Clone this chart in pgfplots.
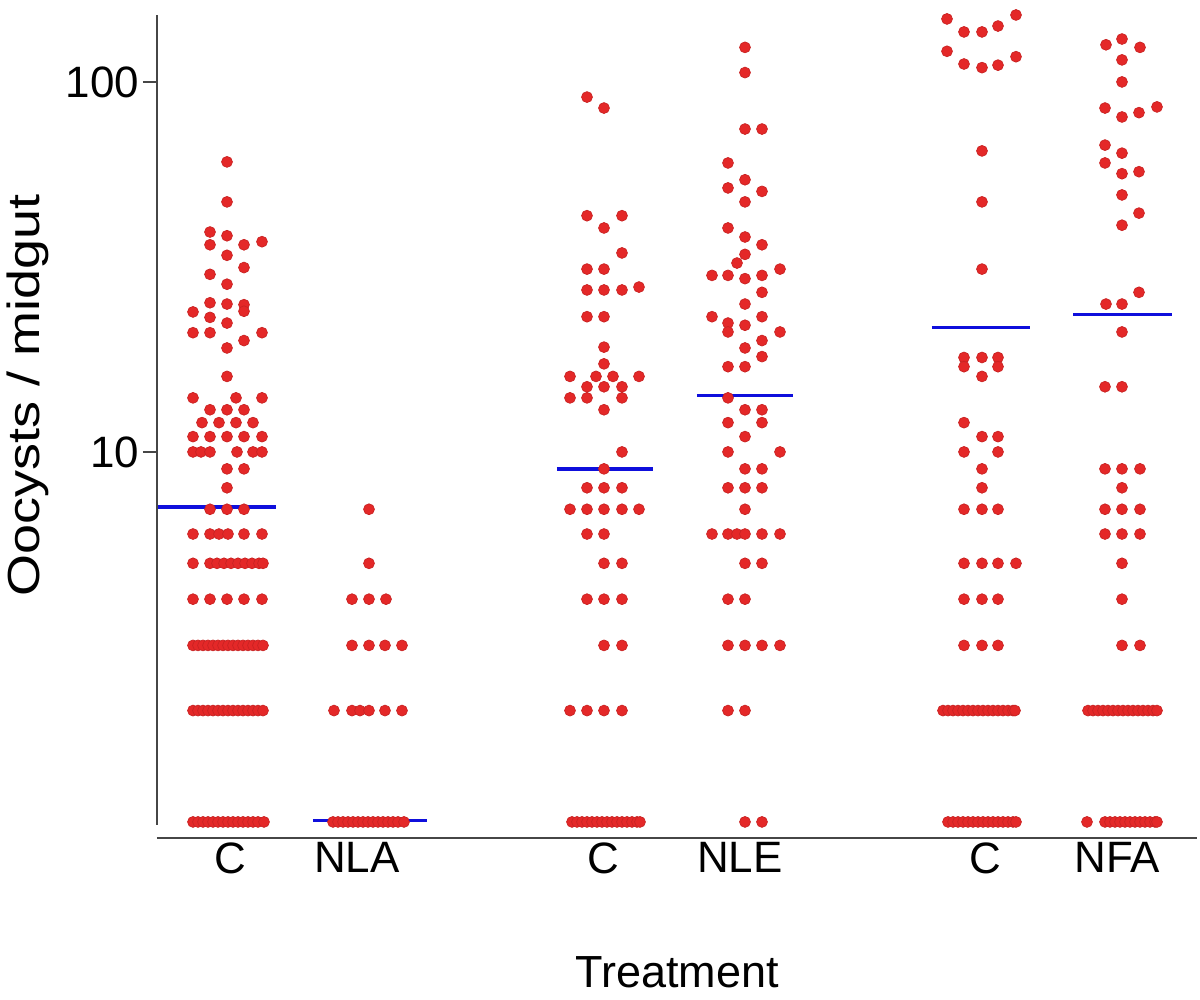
\documentclass[border=0pt]{standalone}
\usepackage{pgfplots}
\pgfplotsset{compat=1.18}
\usepackage{fontspec}
\setmainfont{Liberation Sans}
\definecolor{dotred}{RGB}{228,40,40}
\definecolor{medblue}{RGB}{15,15,220}
\definecolor{axgray}{RGB}{70,70,70}

\pgfplotstableread{
x y
227 60.8
227 47.4
210 39.3
227 38.4
210 36.3
244 36.3
262 37
227 34
210 30.2
244 31.5
227 28.4
210 25.3
227 25.1
244 25
244 24
193 23.9
210 23.1
227 22.3
193 21
210 21
262 21
244 20
227 19.1
227 16
193 14
236 14
262 14
210 13
227 13
244 13
202 12
219 12
236 12
253 12
193 11
210 11
227 11
244 11
262 11
193 10
201 10
210 10
237 10
253 10
262 10
227 9
244 9
227 8
210 7
227 7
244 7
193 6
210 6
219 6
228 6
244 6
262 6
193 5
210 5
217 5
224 5
231 5
238 5
245 5
252 5
259 5
263 5
193 4
210 4
227 4
244 4
262 4
193 3
198 3
203 3
208 3
213 3
218 3
223 3
228 3
233 3
238 3
243 3
248 3
253 3
258 3
263 3
193 2
198 2
203 2
208 2
213 2
218 2
223 2
228 2
233 2
238 2
243 2
248 2
253 2
258 2
263 2
193 1
198 1
203 1
208 1
213 1
218 1
223 1
228 1
233 1
238 1
243 1
248 1
253 1
258 1
264 1
}\groupCa

\pgfplotstableread{
x y
369 7
369 5
352 4
369 4
386 4
352 3
369 3
385 3
402 3
334 2
352 2
360 2
369 2
385 2
402 2
333 1
338 1
343 1
348 1
353 1
358 1
363 1
368 1
373 1
378 1
383 1
388 1
393 1
398 1
404 1
}\groupNLA

\pgfplotstableread{
x y
587 91
604 85
587 43.5
622 43.5
604 40.3
622 34.5
587 31.2
604 31.2
587 27.4
604 27.4
622 27.4
639 27.9
587 23.2
604 23.2
604 19.2
604 17.3
570 16
596 16
613 16
639 16
587 15
604 15
622 15
570 14
587 14
622 14
604 13
622 10
604 9
587 8
604 8
622 8
570 7
587 7
604 7
622 7
639 7
587 6
604 6
604 5
622 5
587 4
604 4
622 4
604 3
622 3
570 2
587 2
604 2
622 2
572 1
577 1
582 1
587 1
592 1
597 1
602 1
607 1
612 1
617 1
622 1
627 1
632 1
637 1
640 1
}\groupCb

\pgfplotstableread{
x y
745 124
745 106
745 74.6
762 74.6
728 60.4
745 54.4
728 51.7
762 50.6
745 47.4
728 40.3
745 38.1
762 36.3
745 34.2
737 32.4
712 30
728 30
762 30
780 31.2
745 29.4
762 27
745 25.1
712 23.2
762 23.2
728 22.3
728 21.1
745 22
780 21.1
762 20
745 19.1
762 18.1
728 17
745 17
728 14
745 13
762 13
728 12
762 12
745 11
728 10
780 10
745 9
762 9
728 8
745 8
762 8
745 7
712 6
728 6
737 6
745 6
762 6
780 6
745 5
762 5
728 4
745 4
728 3
745 3
762 3
780 3
728 2
745 2
745 1
762 1
}\groupNLE

\pgfplotstableread{
x y
947 148
964 136.5
982 136.5
998 141.6
1016 151.7
947 121
964 111.8
982 109.3
998 111
1016 117
982 65.1
982 47.4
982 31.2
964 18
982 18
998 18
964 17
998 17
982 16
964 12
982 11
998 11
964 10
998 10
982 9
982 8
964 7
982 7
998 7
964 5
982 5
998 5
1016 5
964 4
982 4
998 4
964 3
982 3
998 3
943 2
948 2
953 2
958 2
963 2
968 2
973 2
978 2
983 2
988 2
993 2
998 2
1003 2
1008 2
1013 2
1015 2
948 1
953 1
958 1
963 1
968 1
973 1
978 1
983 1
988 1
993 1
998 1
1003 1
1008 1
1013 1
1016 1
}\groupCc

\pgfplotstableread{
x y
1106 126
1122 130.6
1140 124
1122 114.7
1122 100
1105 85
1122 80.4
1139 82.6
1157 85.6
1105 67.5
1122 64.2
1105 60.4
1122 56.5
1139 57.2
1122 49.5
1139 44.2
1122 41
1139 27
1106 25.1
1122 25.1
1122 21.1
1105 15
1122 15
1105 9
1122 9
1140 9
1122 8
1105 7
1122 7
1140 7
1105 6
1122 6
1140 6
1122 5
1122 4
1122 3
1140 3
1088 2
1093 2
1098 2
1103 2
1108 2
1113 2
1118 2
1123 2
1128 2
1133 2
1138 2
1143 2
1148 2
1153 2
1157 2
1087 1
1105 1
1110 1
1115 1
1120 1
1125 1
1130 1
1135 1
1140 1
1145 1
1150 1
1155 1
1157 1
}\groupNFA

\begin{document}
\begin{tikzpicture}
\useasboundingbox (-1.57cm,-1.62cm) rectangle (10.43cm,8.38cm);
\begin{axis}[
  at={(0,0)}, anchor=south west,
  scale only axis, width=10.4cm, height=8.23cm,
  xmin=157, xmax=1197,
  ymode=log, ymin=0.905, ymax=151.7,
  clip=false,
  axis x line*=bottom, axis y line*=left,
  x axis line style={axgray, line width=0.6pt},
  y axis line style={axgray, line width=0.6pt, shorten <=0.13cm},
  xtick={230,357,603,740,985,1117},
  xticklabels={C,NLA,C,NLE,C,NFA},
  xtick style={draw=none},
  xticklabel style={inner sep=0pt, yshift=0.1cm},
  ytick={10,100},
  yticklabels={10,100},
  yminorticks=false,
  minor ytick={},
  ytick style={axgray, line width=0.6pt},
  tick align=outside,
  major tick length=0.14cm,
  yticklabel style={inner sep=0pt, xshift=-0.03cm},
  tick label style={font=\fontsize{12.5}{14}\selectfont},
  label style={font=\fontsize{12.8}{15}\selectfont},
  xlabel={Treatment},
  ylabel={\scalebox{1.2}[1]{Oocysts / midgut}},
  xlabel style={at={(axis description cs:0.5,-0.163)}, anchor=center},
  ylabel style={at={(axis description cs:-0.124,0.538)}, anchor=center},
  dots/.style={only marks, mark=*, mark size=1.55pt, mark options={draw=dotred!88!black, fill=dotred, line width=0.2pt}},
  med/.style={no marks, sharp plot, medblue, line width=1pt},
]
\addplot[dots] table {\groupCa};
\addplot[dots] table {\groupNLA};
\addplot[dots] table {\groupCb};
\addplot[dots] table {\groupNLE};
\addplot[dots] table {\groupCc};
\addplot[dots] table {\groupNFA};
\addplot[med] coordinates {(158,7.1) (276,7.1)};
\addplot[med] coordinates {(313,1.01) (427,1.01)};
\addplot[med] coordinates {(557,9) (653,9)};
\addplot[med] coordinates {(697,14.2) (793,14.2)};
\addplot[med] coordinates {(932,21.7) (1030,21.7)};
\addplot[med] coordinates {(1073,23.5) (1172,23.5)};
\end{axis}
\end{tikzpicture}
\end{document}
